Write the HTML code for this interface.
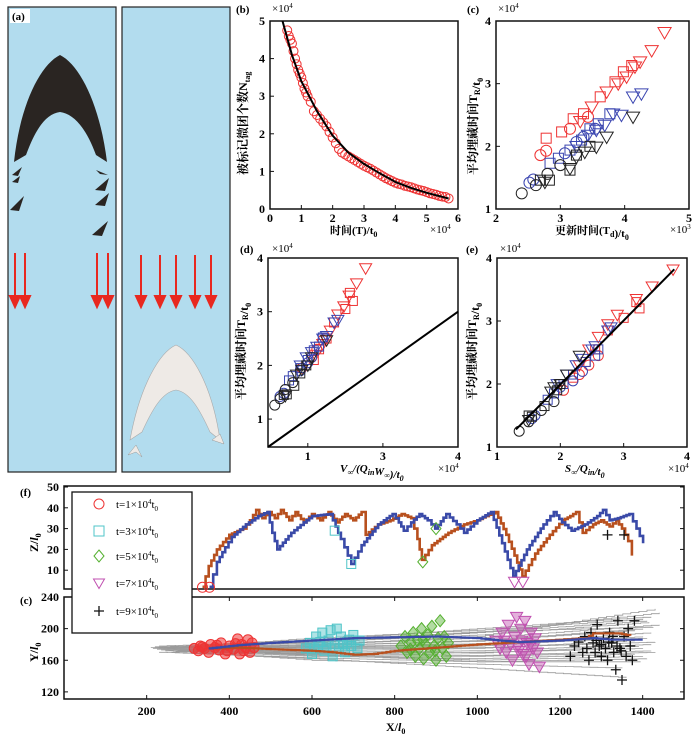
<!DOCTYPE html>
<html><head><meta charset="utf-8"><style>
html,body{margin:0;padding:0;background:#fff;}
svg{display:block;font-family:"Liberation Serif","Noto Serif CJK SC",serif;}
</style></head><body>
<svg id="fig" width="700" height="739" viewBox="0 0 700 739">
<g id="panel-a">
 <rect x="8" y="7" width="108" height="465" fill="#b2dcee" stroke="#222" stroke-width="1.2"/>
 <rect x="122" y="7" width="108" height="465" fill="#b2dcee" stroke="#222" stroke-width="1.2"/>
 <path d="M60,55 C40,65 20,105 14,162 L26,155 C36,128 46,114 60,112 C74,114 86,128 96,155 L107,162 C100,105 80,65 60,55 Z" fill="#2a2522"/>
 <path d="M12,175 l10,-8 l-4,9z M12,182 l8,-6 l-2,7z M10,210 l14,-14 l-5,15z M96,170 l12,5 l-8,-1z M95,190 l14,-12 l-4,13z M95,205 l14,-12 l-4,13z M92,235 l16,-14 l-6,15z" fill="#2a2522"/>
 <path d="M176,345 C160,352 140,385 130,440 L142,432 C152,410 162,392 176,390 C190,392 200,410 210,432 L220,440 C212,385 192,352 176,345 Z" fill="#eeeae6" stroke="#aaa" stroke-width="0.6"/>
 <path d="M128,455 l8,-10 l6,12 l-6,-5z M212,440 l8,-6 l4,10z" fill="#eeeae6" stroke="#999" stroke-width="0.5"/>
 <g stroke="#e8281f" stroke-width="2" fill="#e8281f">
  <line x1="15" y1="253" x2="15" y2="298"/><path d="M10,296 h10 l-5,11z"/>
  <line x1="25" y1="253" x2="25" y2="298"/><path d="M20,296 h10 l-5,11z"/>
  <line x1="97" y1="253" x2="97" y2="298"/><path d="M92,296 h10 l-5,11z"/>
  <line x1="108" y1="253" x2="108" y2="298"/><path d="M103,296 h10 l-5,11z"/>
  <line x1="141" y1="255" x2="141" y2="298"/><path d="M136,296 h10 l-5,11z"/>
  <line x1="160" y1="255" x2="160" y2="298"/><path d="M155,296 h10 l-5,11z"/>
  <line x1="176" y1="255" x2="176" y2="298"/><path d="M171,296 h10 l-5,11z"/>
  <line x1="195" y1="255" x2="195" y2="298"/><path d="M190,296 h10 l-5,11z"/>
  <line x1="211" y1="255" x2="211" y2="298"/><path d="M206,296 h10 l-5,11z"/>
 </g>
 <rect x="10" y="9" width="20" height="14" fill="#fff"/>
 <text x="12" y="20" font-size="11" font-weight="bold">(a)</text>
</g>
<g id="plots"></g>
</svg>
<script>
// ---- data: panel b ----
const bT=[0.55,0.6,0.65,0.7,0.75,0.8,0.85,0.9,0.95,1.0,1.05,1.1,1.15,1.2,1.3,1.4,1.5,1.6,1.7,1.8,1.9,2.0,2.1,2.2,2.3,2.4,2.5,2.6,2.7,2.8,2.9,3.0,3.1,3.2,3.3,3.4,3.5,3.6,3.7,3.8,3.9,4.0,4.1,4.2,4.3,4.4,4.5,4.6,4.7,4.8,4.9,5.0,5.1,5.2,5.3,5.4,5.5,5.6,5.7];
const bN=[4.75,4.6,4.5,4.4,4.2,4.0,3.85,3.7,3.6,3.5,3.35,3.2,3.1,3.0,2.85,2.6,2.5,2.4,2.3,2.2,2.05,1.9,1.75,1.6,1.5,1.45,1.4,1.35,1.3,1.25,1.2,1.15,1.11,1.07,1.02,0.97,0.92,0.87,0.82,0.78,0.74,0.7,0.67,0.65,0.62,0.6,0.58,0.55,0.52,0.5,0.48,0.45,0.42,0.4,0.38,0.35,0.33,0.32,0.28];
const fitT=[0.4,0.7,1.0,1.5,2.0,2.5,3.0,3.5,4.0,4.5,5.0,5.7];
const fitN=[5.0,4.1,3.4,2.6,1.95,1.5,1.2,0.95,0.72,0.56,0.43,0.28];
// ---- data: panel c ----
const cRedCirc=[[2.69,1.86],[2.78,1.93],[3.15,2.28],[3.43,2.47]];
const cRedSq=[[2.78,2.13],[3.02,2.23],[3.2,2.44],[3.36,2.52],[3.62,2.79],[3.85,3.03],[3.98,3.19],[4.11,3.29]];
const cRedTri=[[3.31,2.4],[3.49,2.63],[3.72,2.87],[3.9,3.0],[4.03,3.11],[4.16,3.27],[4.24,3.35],[4.42,3.53],[4.62,3.82]];
const cBlueCirc=[[2.52,1.42],[2.58,1.47],[3.07,1.89],[3.25,2.07],[3.36,2.15],[3.54,2.28]];
const cBlueSq=[[2.84,1.73],[2.97,1.81],[3.15,1.94],[3.33,2.1],[3.46,2.28],[3.59,2.36],[3.77,2.52]];
const cBlueTri=[[3.25,2.0],[3.43,2.18],[3.56,2.26],[3.69,2.34],[3.82,2.52],[3.95,2.5],[4.13,2.79],[4.26,2.84]];
const cBlkCirc=[[2.4,1.25],[2.62,1.38],[2.8,1.56],[3.0,1.7]];
const cBlkSq=[[2.69,1.46],[2.83,1.46],[3.15,1.62],[3.25,1.86],[3.46,2.0]];
const cBlkTri=[[2.76,1.43],[3.15,1.65],[3.25,1.83],[3.38,1.91],[3.56,1.99],[3.72,2.15],[4.13,2.47]];
// ---- data: panel d ----
const dRedCirc=[[1.92,1.95],[2.05,2.15],[2.2,2.47],[2.12,2.3]];
const dRedSq=[[2.08,2.1],[2.15,2.3],[2.25,2.5],[2.35,2.8],[2.5,3.05],[2.56,3.35],[2.6,3.2]];
const dRedTri=[[2.1,2.2],[2.2,2.4],[2.3,2.65],[2.4,2.95],[2.48,3.1],[2.55,3.3],[2.65,3.53],[2.77,3.81]];
const dBlueCirc=[[1.63,1.42],[1.68,1.48],[1.9,1.9],[2.0,2.05],[2.05,2.15]];
const dBlueSq=[[1.75,1.72],[1.8,1.8],[1.9,1.95],[2.0,2.1],[2.08,2.28],[2.15,2.35],[2.2,2.52]];
const dBlueTri=[[1.9,2.0],[1.98,2.15],[2.05,2.25],[2.12,2.35],[2.2,2.5],[2.25,2.55],[2.35,2.8],[2.4,2.85]];
const dBlkCirc=[[1.56,1.26],[1.63,1.38],[1.7,1.55],[1.8,1.68]];
const dBlkSq=[[1.68,1.45],[1.72,1.46],[1.82,1.62],[1.9,1.85],[1.98,2.0]];
const dBlkTri=[[1.7,1.43],[1.85,1.83],[1.92,1.92],[2.0,2.0],[2.05,2.15],[2.25,2.47]];
const dLineX=[1.47,4.0]; const dLineY=[0.48,3.0];
// ---- data: panel e ----
const eRedCirc=[[2.05,1.9],[2.3,2.15],[2.6,2.45],[2.45,2.3]];
const eRedSq=[[2.2,2.1],[2.4,2.35],[2.55,2.55],[2.75,2.85],[3.0,3.05],[3.2,3.3],[3.25,3.2]];
const eRedTri=[[2.3,2.3],[2.45,2.55],[2.6,2.75],[2.75,2.95],[2.9,3.1],[3.2,3.35],[3.45,3.55],[3.78,3.82]];
const eBlueCirc=[[1.55,1.45],[1.6,1.5],[2.0,1.95],[2.2,2.05],[2.35,2.2]];
const eBlueSq=[[1.8,1.75],[1.9,1.85],[2.05,2.0],[2.2,2.15],[2.4,2.35],[2.55,2.45],[2.6,2.55]];
const eBlueTri=[[1.95,2.0],[2.1,2.15],[2.25,2.3],[2.35,2.4],[2.5,2.55],[2.55,2.6],[2.75,2.85],[2.8,2.9]];
const eBlkCirc=[[1.35,1.25],[1.5,1.4],[1.7,1.58],[1.9,1.72]];
const eBlkSq=[[1.5,1.5],[1.55,1.48],[1.75,1.65],[1.95,1.9],[2.0,2.0]];
const eBlkTri=[[1.5,1.43],[1.85,1.88],[1.9,1.95],[2.0,2.0],[2.1,2.15],[2.3,2.45]];
const eLineX=[1.3,3.8]; const eLineY=[1.28,3.82];
// ---- data: panel f ----
const fOrange=[[335,2],[350,12],[370,20],[400,27],[433,30],[450,34],[465,39],[480,35],[495,38],[510,35],[525,39],[545,34],[560,38],[580,33],[600,37],[620,34],[640,38],[660,33],[680,37],[700,34],[720,38],[730,27],[760,32],[790,34],[817,37],[840,35],[855,25],[866,15],[890,22],[930,28],[968,32],[1000,34],[1020,36],[1044,38],[1070,27],[1090,17],[1109,7],[1140,18],[1175,27],[1206,34],[1225,36],[1239,38],[1255,28],[1280,32],[1300,34],[1320,31],[1336,34],[1350,30],[1365,24],[1374,17]];
const fBlue=[[352,2],[370,14],[390,21],[406,26],[440,32],[470,36],[492,38],[504,28],[516,20],[550,28],[580,33],[600,36],[644,37],[670,25],[695,13],[720,22],[760,32],[795,37],[810,33],[822,29],[840,33],[860,37],[880,34],[898,30],[925,37],[950,32],[968,28],[1000,34],[1033,38],[1060,23],[1087,7],[1120,20],[1160,32],[1185,38],[1205,33],[1228,29],[1260,32],[1290,36],[1304,39],[1320,34],[1340,35],[1368,37],[1385,30],[1401,23]];
const fRedCirc=[[335,1.8],[352,1.8]];
const fCyanSq=[[655,29],[695,13]];
const fGreenDia=[[868,14],[900,30]];
const fMagTri=[[1090,4.5],[1110,4.5]];
const fBlkPlus=[[1315,27],[1355,27]];
// ---- data: panel g ----
const gGrey=[[210,176,180,190,1430,225],[230,178,185,200,1420,215],[220,177,182,195,1410,210],[240,176,180,188,1440,205],[260,175,178,185,1400,200],[215,175,176,180,1420,195],[250,174,175,178,1400,190],[225,174,172,175,1380,185],[280,173,170,172,1420,180],[235,173,168,170,1400,175],[300,172,166,165,1430,170],[245,172,165,162,1380,168],[270,171,168,160,1400,165],[230,170,163,158,1410,162],[290,171,160,155,1350,150],[260,170,162,150,1360,138],[220,176,186,195,1440,220],[300,177,188,198,1400,212],[250,175,179,184,1380,198],[280,176,183,192,1415,208],[240,174,174,176,1430,183],[265,173,171,169,1390,178],[310,172,169,166,1420,172],[230,175,177,181,1410,188],[255,176,184,196,1425,202],[275,172,167,158,1395,158]];
const gBlue=[[350,175],[420,179],[500,182],[600,185],[700,188],[800,189],[900,190],[1000,188],[1050,185],[1100,183],[1200,185],[1280,188],[1320,186],[1400,186]];
const gOrange=[[350,175],[420,176],[500,174],[600,172],[650,170],[700,167],[750,168],[800,172],[900,176],[1000,180],[1100,183],[1200,186],[1260,188],[1280,194],[1340,194],[1370,191]];
const gRed=[[315,175],[325,172],[330,178],[340,175],[350,170],[355,180],[365,176],[375,173],[380,182],[390,168],[400,178],[410,174],[420,187],[425,168],[430,180],[440,176],[445,186],[450,170],[455,182],[460,176],[335,177],[370,179],[395,172],[415,181],[435,172]];
const gCyan=[[585,175],[595,182],[600,168],[610,190],[615,178],[625,195],[630,172],[640,185],[645,198],[650,165],[655,180],[660,200],[665,175],[670,190],[680,170],[685,183],[695,178],[700,192],[710,175],[715,185],[620,183],[635,176],[675,180],[690,186],[605,175]];
const gGreen=[[815,178],[825,190],[830,170],[840,182],[845,195],[850,165],[855,185],[860,175],[865,200],[870,162],[875,180],[880,192],[885,170],[890,203],[895,178],[900,160],[905,188],[910,210],[915,175],[920,190],[925,165],[930,182],[838,174],[868,186],[898,172]];
const gMag=[[1045,185],[1055,175],[1060,195],[1070,170],[1075,205],[1080,180],[1085,160],[1090,190],[1095,215],[1100,172],[1105,200],[1110,168],[1115,210],[1120,182],[1125,155],[1130,195],[1135,175],[1140,188],[1145,170],[1150,152],[1065,185],[1098,178],[1108,185],[1128,180],[1118,165]];
const gBlk=[[1225,165],[1235,178],[1245,183],[1255,170],[1260,190],[1265,175],[1270,160],[1275,195],[1280,182],[1285,170],[1290,205],[1295,178],[1300,165],[1305,188],[1310,175],[1315,160],[1320,195],[1325,182],[1330,170],[1335,148],[1340,210],[1345,175],[1350,135],[1355,190],[1360,165],[1365,200],[1370,178],[1375,160],[1380,210],[1300,180],[1318,183],[1338,178],[1288,185],[1328,190],[1348,172]];
const gXTicks=[200,400,600,800,1000,1200,1400];
const gYTicks=[120,160,200,240];
const fYTicks=[10,20,30,40,50];

const NS='http://www.w3.org/2000/svg';
const root=document.getElementById('plots');
function lin(d0,d1,r0,r1){return v=>r0+(v-d0)*(r1-r0)/(d1-d0);}
function mk(tag,attrs,parent){const e=document.createElementNS(NS,tag);for(const k in attrs)e.setAttribute(k,attrs[k]);(parent||root).appendChild(e);return e;}
function marker(kind,x,y,s,color,parent){
  let e;
  if(kind==='circ') e=mk('circle',{cx:x,cy:y,r:s,fill:'none',stroke:color,'stroke-width':1},parent);
  else if(kind==='sq') e=mk('rect',{x:x-s,y:y-s,width:2*s,height:2*s,fill:'none',stroke:color,'stroke-width':1},parent);
  else if(kind==='tri') e=mk('path',{d:`M${x-s*1.1},${y-s*0.8}H${x+s*1.1}L${x},${y+s*1.1}Z`,fill:'none',stroke:color,'stroke-width':1},parent);
  else if(kind==='dia') e=mk('path',{d:`M${x},${y-s*1.2}L${x+s},${y}L${x},${y+s*1.2}L${x-s},${y}Z`,fill:'none',stroke:color,'stroke-width':1},parent);
  else e=mk('path',{d:`M${x-s},${y}H${x+s}M${x},${y-s}V${y+s}`,fill:'none',stroke:color,'stroke-width':1.3},parent);
  
  
  return e;
}
function txt(x,y,s,size,opts,name){
  const t=mk('text',Object.assign({x:x,y:y,'font-size':size,'font-weight':'bold'},opts||{}));
  t.innerHTML=s;
  
  
  return t;
}
function frame(x0,y0,x1,y1,name){
  const r=mk('rect',{x:x0,y:y0,width:x1-x0,height:y1-y0,fill:'none',stroke:'#111','stroke-width':1.5});
  
  
}
function axes(sx,sy,xt,xl,yt,yl,x0,y0,x1,y1,nm){
  frame(x0,y0,x1,y1,nm+'-frame');
  xt.forEach((v,i)=>{const p=sx(v);mk('line',{x1:p,y1:y1,x2:p,y2:y1-4,stroke:'#111'});
    txt(p,y1+13,xl[i],12,{'text-anchor':'middle'},nm+'-x-tick-label');});
  yt.forEach((v,i)=>{const p=sy(v);mk('line',{x1:x0,y1:p,x2:x0+4,y2:p,stroke:'#111'});
    txt(x0-5,p+4,yl[i],12,{'text-anchor':'end'},nm+'-y-tick-label');});
}
function series(arr,kind,sx,sy,s,color,g){arr.forEach(p=>marker(kind,sx(p[0]),sy(p[1]),s,color,g));}
function line(arr,sx,sy,color,w,name){
  const d=arr.map((p,i)=>(i?'L':'M')+sx(p[0]).toFixed(1)+','+sy(p[1]).toFixed(1)).join('');
  const e=mk('path',{d:d,fill:'none',stroke:color,'stroke-width':w,'stroke-linejoin':'round'});
  
  
  return e;
}
function stepLine(arr,sx,sy,color,w,name,stepPx){
  const sp=stepPx||4;
  let d='M'+sx(arr[0][0]).toFixed(1)+','+sy(arr[0][1]).toFixed(1);
  for(let i=1;i<arr.length;i++){
    const xa=sx(arr[i-1][0]),ya=sy(arr[i-1][1]),xb=sx(arr[i][0]),yb=sy(arr[i][1]);
    const n=Math.max(1,Math.round(Math.abs(xb-xa)/sp));
    for(let k=1;k<=n;k++){d+='H'+(xa+(xb-xa)*k/n).toFixed(1)+'V'+(ya+(yb-ya)*k/n).toFixed(1);}
  }
  const e=mk('path',{d:d,fill:'none',stroke:color,'stroke-width':w});
  
  
  return e;
}
const RED='#ee3333',BLUE='#3a45b0',BLK='#222';
const sub=(s)=>`<tspan font-size="8" dy="3">${s}</tspan><tspan dy="-3"></tspan>`;

// ---- panel b ----
{const sx=lin(0,6,270,458),sy=lin(0,5,209,21);
 axes(sx,sy,[0,1,2,3,4,5,6],['0','1','2','3','4','5','6'],[0,1,2,3,4,5],['0','1','2','3','4','5'],270,21,458,209,'panel-b');
 const g=mk('g',{});
 bT.forEach((t,i)=>marker('circ',sx(t),sy(bN[i]),4.5,RED,g));
 line(fitT.map((t,i)=>[t,fitN[i]]),sx,sy,'#000',2,'fit-curve');
 txt(236,13,'(b)',11,{},'panel-label-b');
 txt(272,12,'×10<tspan font-size="7" dy="-4">4</tspan>',11,{'font-weight':'normal'},'y-exponent-b');
 txt(430,233,'×10<tspan font-size="7" dy="-4">4</tspan>',11,{'font-weight':'normal'},'x-exponent-b');
 txt(330,234,'时间(T)/t'+sub('0'),11,{},'x-axis-title-b');
 txt(247,175,'被标记微团个数N'+sub('tag'),12,{transform:'rotate(-90 247 175)'},'y-axis-title-b');}
// ---- panel c ----
{const sx=lin(2,5,496,689),sy=lin(1,4,209,21);
 axes(sx,sy,[2,3,4,5],['2','3','4','5'],[1,2,3,4],['1','2','3','4'],496,21,689,209,'panel-c');
 const g=mk('g',{});
 series(cRedCirc,'circ',sx,sy,5.5,RED,g);series(cRedSq,'sq',sx,sy,5,RED,g);series(cRedTri,'tri',sx,sy,6,RED,g);
 series(cBlueCirc,'circ',sx,sy,5.5,BLUE,g);series(cBlueSq,'sq',sx,sy,5,BLUE,g);series(cBlueTri,'tri',sx,sy,6,BLUE,g);
 series(cBlkCirc,'circ',sx,sy,5.5,BLK,g);series(cBlkSq,'sq',sx,sy,5,BLK,g);series(cBlkTri,'tri',sx,sy,6,BLK,g);
 txt(467,13,'(c)',11,{},'panel-label-c');
 txt(498,12,'×10<tspan font-size="7" dy="-4">4</tspan>',11,{'font-weight':'normal'},'y-exponent-c');
 txt(670,233,'×10<tspan font-size="7" dy="-4">3</tspan>',11,{'font-weight':'normal'},'x-exponent-c');
 txt(555,234,'更新时间(T'+sub('d')+')/t'+sub('0'),11,{},'x-axis-title-c');
 txt(477,175,'平均埋藏时间T'+sub('R')+'/t'+sub('0'),12,{transform:'rotate(-90 477 175)'},'y-axis-title-c');}
// ---- panel d ----
{const sx=lin(1.47,4,268,458),sy=lin(0.48,4,447,258);
 axes(sx,sy,[2,3,4],['1','3','4'],[1,2,3,4],['1','2','3','4'],268,258,458,447,'panel-d');
 line([[dLineX[0],dLineY[0]],[dLineX[1],dLineY[1]]],sx,sy,'#000',2,'reference-line-d');
 const g=mk('g',{});
 series(dRedCirc,'circ',sx,sy,5,RED,g);series(dRedSq,'sq',sx,sy,4.5,RED,g);series(dRedTri,'tri',sx,sy,5.5,RED,g);
 series(dBlueCirc,'circ',sx,sy,5,BLUE,g);series(dBlueSq,'sq',sx,sy,4.5,BLUE,g);series(dBlueTri,'tri',sx,sy,5.5,BLUE,g);
 series(dBlkCirc,'circ',sx,sy,5,BLK,g);series(dBlkSq,'sq',sx,sy,4.5,BLK,g);series(dBlkTri,'tri',sx,sy,5.5,BLK,g);
 txt(240,253,'(d)',11,{},'panel-label-d');
 txt(272,252,'×10<tspan font-size="7" dy="-4">4</tspan>',11,{'font-weight':'normal'},'y-exponent-d');
 txt(438,472,'×10<tspan font-size="7" dy="-4">4</tspan>',11,{'font-weight':'normal'},'x-exponent-d');
 txt(340,472,'V<tspan font-size="8" dy="3">∞</tspan><tspan dy="-3">/(Q</tspan>'+sub('in')+'W'+sub('∞')+')/t'+sub('0'),11,{'font-style':'italic'},'x-axis-title-d');
 txt(245,400,'平均埋藏时间T'+sub('R')+'/t'+sub('0'),12,{transform:'rotate(-90 245 400)'},'y-axis-title-d');}
// ---- panel e ----
{const sx=lin(1,4,497,687),sy=lin(1,4,447,258);
 axes(sx,sy,[1,2,3,4],['1','2','3','4'],[1,2,3,4],['1','2','3','4'],497,258,687,447,'panel-e');
 const g=mk('g',{});
 series(eRedCirc,'circ',sx,sy,5,RED,g);series(eRedSq,'sq',sx,sy,4.5,RED,g);series(eRedTri,'tri',sx,sy,5.5,RED,g);
 series(eBlueCirc,'circ',sx,sy,5,BLUE,g);series(eBlueSq,'sq',sx,sy,4.5,BLUE,g);series(eBlueTri,'tri',sx,sy,5.5,BLUE,g);
 series(eBlkCirc,'circ',sx,sy,5,BLK,g);series(eBlkSq,'sq',sx,sy,4.5,BLK,g);series(eBlkTri,'tri',sx,sy,5.5,BLK,g);
 line([[eLineX[0],eLineY[0]],[eLineX[1],eLineY[1]]],sx,sy,'#000',2,'fit-line-e');
 txt(466,253,'(e)',11,{},'panel-label-e');
 txt(500,252,'×10<tspan font-size="7" dy="-4">4</tspan>',11,{'font-weight':'normal'},'y-exponent-e');
 txt(668,472,'×10<tspan font-size="7" dy="-4">4</tspan>',11,{'font-weight':'normal'},'x-exponent-e');
 txt(565,472,'S<tspan font-size="8" dy="3">∞</tspan><tspan dy="-3">/Q</tspan>'+sub('in')+'/t'+sub('0'),11,{'font-style':'italic'},'x-axis-title-e');
 txt(476,400,'平均埋藏时间T'+sub('R')+'/t'+sub('0'),12,{transform:'rotate(-90 476 400)'},'y-axis-title-e');}
// ---- panel f ----
{const sx=lin(0,1500,64,684),sy=lin(0,50,591,487);
 frame(64,486,684,589,'panel-f-frame');
 fYTicks.forEach(v=>{const p=sy(v);mk('line',{x1:64,y1:p,x2:68,y2:p,stroke:'#111'});mk('line',{x1:684,y1:p,x2:680,y2:p,stroke:'#111'});
   txt(59,p+4,String(v),12,{'text-anchor':'end'},'panel-f-y-tick-label');});
 stepLine(fOrange,sx,sy,'#b8501e',2.6,'orange-trajectory-z',3);
 stepLine(fBlue,sx,sy,'#3a4aa8',2.6,'blue-trajectory-z',3);
 const g=mk('g',{});
 series(fRedCirc,'circ',sx,sy,5,'#ee3333',g);series(fCyanSq,'sq',sx,sy,4.5,'#4fc4c8',g);
 series(fGreenDia,'dia',sx,sy,5,'#55b030',g);series(fMagTri,'tri',sx,sy,5.5,'#c050b0',g);series(fBlkPlus,'plus',sx,sy,5,'#111',g);
 txt(20,496,'(f)',11,{},'panel-label-f');
 txt(38,552,'Z/<tspan font-style="italic">l</tspan>'+sub('0'),12,{transform:'rotate(-90 38 552)'},'y-axis-title-f');}
// ---- panel g ----
{const sx=lin(0,1500,64,684),sy=lin(111,240,699,597);
 const gg=mk('g',{});
 gGrey.forEach(r=>{const pts=[[r[0],r[1]],[Math.max(r[0]+60,600),r[2]],[1000,r[3]],[r[4],r[5]]];
   const e=stepLine(pts,sx,sy,'#9a9a9a',0.8,'grey-trajectory',8);gg.appendChild(e);});
 const g=mk('g',{});
 gRed.forEach(p=>{const c=marker('circ',sx(p[0]),sy(p[1]),5,'#ee3333',g);c.setAttribute('fill','rgba(238,51,51,0.55)');});
 gCyan.forEach(p=>{const c=marker('sq',sx(p[0]),sy(p[1]),4.5,'#4fc4c8',g);c.setAttribute('fill','rgba(79,196,200,0.45)');});
 gGreen.forEach(p=>{const c=marker('dia',sx(p[0]),sy(p[1]),5,'#55b030',g);c.setAttribute('fill','rgba(85,176,48,0.45)');});
 gMag.forEach(p=>{const c=marker('tri',sx(p[0]),sy(p[1]),5.5,'#c050b0',g);c.setAttribute('fill','rgba(192,80,176,0.45)');});
 series(gBlk,'plus',sx,sy,5,'#111',g);
 stepLine(gOrange,sx,sy,'#b8501e',2.2,'orange-trajectory-y',4);
 stepLine(gBlue,sx,sy,'#3a4aa8',2.2,'blue-trajectory-y',4);
 frame(64,597,684,699,'panel-g-frame');
 gXTicks.forEach(v=>{const p=sx(v);mk('line',{x1:p,y1:699,x2:p,y2:695,stroke:'#111'});mk('line',{x1:p,y1:597,x2:p,y2:601,stroke:'#111'});
   txt(p,715,String(v),12,{'text-anchor':'middle'},'panel-g-x-tick-label');});
 gYTicks.forEach(v=>{const p=sy(v);mk('line',{x1:64,y1:p,x2:68,y2:p,stroke:'#111'});mk('line',{x1:684,y1:p,x2:680,y2:p,stroke:'#111'});
   txt(59,p+4,String(v),12,{'text-anchor':'end'},'panel-g-y-tick-label');});
 txt(20,604,'(c)',11,{},'panel-label-g');
 txt(38,662,'Y/<tspan font-style="italic">l</tspan>'+sub('0'),12,{transform:'rotate(-90 38 662)'},'y-axis-title-g');
 txt(386,731,'X/<tspan font-style="italic">l</tspan>'+sub('0'),12,{},'x-axis-title-g');}
// ---- legend ----
{const lg=mk('g',{});
 mk('rect',{x:72,y:492,width:120,height:141,fill:'#fff',stroke:'#111','stroke-width':1.3},lg);
 const kinds=['circ','sq','dia','tri','plus'];
 const cols=['#ee3333','#4fc4c8','#55b030','#c050b0','#111'];
 const labs=['1','3','5','7','9'];
 const yy=[504,531,556,583,611];
 labs.forEach((l,i)=>{const e=mk('g',{},lg);
   marker(kinds[i],99,yy[i],5,cols[i],e);
   const t=txt(116,yy[i]+4,'t='+l+'×10<tspan font-size="7" dy="-4">4</tspan><tspan dy="4">t</tspan><tspan font-size="7" dy="3">0</tspan>',11,{'font-weight':'normal'},'legend-label');e.appendChild(t);});}
</script>
</body></html>
